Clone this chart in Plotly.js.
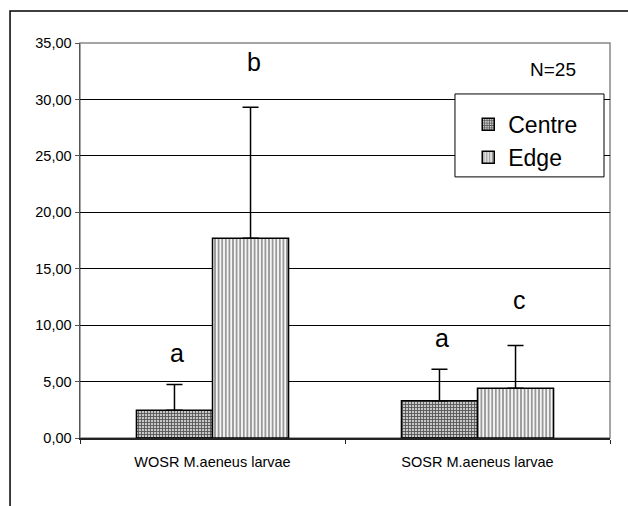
<!DOCTYPE html>
<html>
<head>
<meta charset="utf-8">
<script src="https://cdn.plot.ly/plotly-3.0.1.min.js"></script>
<style>
html,body{margin:0;padding:0;background:#fff;}
#chart{width:628px;height:506px;}
</style>
</head>
<body>
<div id="chart"></div>
<script>
// ---- data ----
var categories = ['WOSR M.aeneus larvae', 'SOSR M.aeneus larvae'];
var seriesNames = ['Centre', 'Edge'];
var centreMeans = [2.45, 3.3];
var centreErr = [2.3, 2.8];
var edgeMeans = [17.7, 4.4];
var edgeErr = [11.6, 3.8];
var centreLetters = ['a', 'a'];
var edgeLetters = ['b', 'c'];
var yTickVals = [0, 5, 10, 15, 20, 25, 30, 35];
var sampleLabel = 'N=25';

var font = 'Arial, "Liberation Sans", sans-serif';

var traceCentre = {
  type: 'bar', name: seriesNames[0], x: categories, y: centreMeans,
  error_y: {type: 'data', array: centreErr, arrayminus: centreErr.map(function(){return 0;}), symmetric: false,
            color: '#000', thickness: 1.5, width: 8},
  marker: {color: '#c8c8c8', line: {color: '#000', width: 1.5},
           pattern: {shape: '+', size: 3, solidity: 0.5, fgcolor: '#555', bgcolor: '#c8c8c8', fillmode: 'replace'}}
};
var traceEdge = {
  type: 'bar', name: seriesNames[1], x: categories, y: edgeMeans,
  error_y: {type: 'data', array: edgeErr, arrayminus: edgeErr.map(function(){return 0;}), symmetric: false,
            color: '#000', thickness: 1.5, width: 8},
  marker: {color: '#ffffff', line: {color: '#000', width: 1.5},
           pattern: {shape: '|', size: 3.6, solidity: 0.55, fgcolor: '#999', bgcolor: '#ffffff', fillmode: 'replace'}}
};

var annotations = [];
for (var i = 0; i < categories.length; i++) {
  annotations.push({x: i - 0.135, y: centreMeans[i] + centreErr[i] + 2.8, xref: 'x', yref: 'y',
    xanchor: 'center', yanchor: 'middle',
    text: centreLetters[i], showarrow: false, font: {family: font, size: 25, color: '#000'}});
  annotations.push({x: i + 0.158, y: edgeMeans[i] + edgeErr[i] + 4.0, xref: 'x', yref: 'y',
    xanchor: 'center', yanchor: 'middle',
    text: edgeLetters[i], showarrow: false, font: {family: font, size: 25, color: '#000'}});
}
annotations.push({x: 0.8925, y: 0.932, xref: 'paper', yref: 'paper', xanchor: 'center', yanchor: 'middle',
  text: sampleLabel, showarrow: false, font: {family: font, size: 19, color: '#000'}});

var layout = {
  width: 628, height: 506,
  margin: {l: 80, r: 18, t: 43, b: 68, pad: 0},
  paper_bgcolor: '#fff', plot_bgcolor: '#fff',
  separators: ',.',
  font: {family: font, color: '#000'},
  showlegend: true,
  barmode: 'group', bargap: 0.426, bargroupgap: 0,
  xaxis: {type: 'category', showline: true, linecolor: '#222', linewidth: 1.5,
          ticks: 'outside', tickson: 'boundaries', ticklen: 4, tickcolor: '#222', ticklabelstandoff: 10,
          tickfont: {family: font, size: 14.5, color: '#000'}, showgrid: false, zeroline: false},
  yaxis: {range: [0, 35], tickvals: yTickVals, tickformat: '.2f', showline: true, linecolor: '#555', linewidth: 1.5,
          ticks: 'outside', ticklen: 4, tickcolor: '#555', showgrid: true, gridcolor: '#000', gridwidth: 1,
          zeroline: false, tickfont: {family: font, size: 14.5, color: '#000'}},
  legend: {x: 0.7325, y: 0.8485, xanchor: 'left', yanchor: 'top', bgcolor: 'rgba(0,0,0,0)', borderwidth: 0,
           font: {family: font, size: 23, color: '#000'}, tracegroupgap: 0, traceorder: 'normal'},
  annotations: annotations,
  shapes: [
    {type: 'rect', xref: 'paper', yref: 'paper', x0: 0, x1: 1, y0: 0, y1: 1, line: {color: '#888', width: 1.5}, layer: 'below'},
    {type: 'path', xref: 'paper', yref: 'paper', path: 'M -0.132,-0.3 L -0.132,1.081 L 1.2,1.081', line: {color: '#000', width: 1.5}},
    {type: 'rect', xref: 'paper', yref: 'paper', x0: 0.7075, x1: 0.9887, y0: 0.661, y1: 0.871,
     fillcolor: '#fff', line: {color: '#000', width: 1}, layer: 'above'}
  ]
};

Plotly.newPlot('chart', [traceCentre, traceEdge], layout, {displayModeBar: false, staticPlot: true});
</script>
</body>
</html>
